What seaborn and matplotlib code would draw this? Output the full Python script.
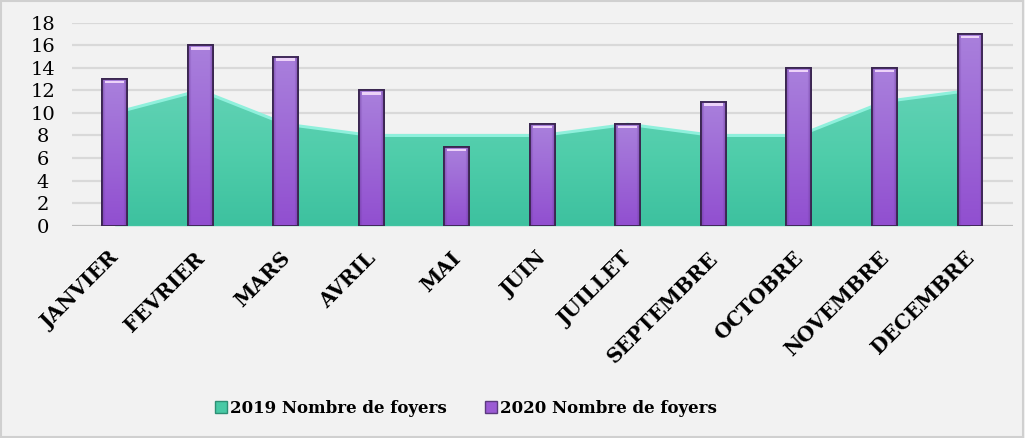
import matplotlib
matplotlib.use("Agg")
import matplotlib.pyplot as plt
import matplotlib.transforms as mtransforms
import seaborn as sns
import numpy as np
import pandas as pd
from matplotlib.patches import Rectangle, Patch
from matplotlib.colors import LinearSegmentedColormap, to_rgb

months = ["JANVIER", "FEVRIER", "MARS", "AVRIL", "MAI", "JUIN", "JUILLET",
          "SEPTEMBRE", "OCTOBRE", "NOVEMBRE", "DECEMBRE"]
foyers_2019 = [10, 12, 9, 8, 8, 8, 9, 8, 8, 11, 12]
foyers_2020 = [13, 16, 15, 12, 7, 9, 9, 11, 14, 14, 17]
y_ticks = [0, 2, 4, 6, 8, 10, 12, 14, 16, 18]
label_2019 = "2019 Nombre de foyers"
label_2020 = "2020 Nombre de foyers"

sns.set_style("white")
plt.rcParams['font.family'] = ['DejaVu Serif']

bg = "#f2f2f2"
fig = plt.figure(figsize=(10.25, 4.38), dpi=100, facecolor=bg)
ax = fig.add_axes([0.0702, 0.4847, 0.9178, 0.4635])
ax.set_facecolor(bg)

df = pd.DataFrame({"mois": months, "v2019": foyers_2019, "v2020": foyers_2020})
xpos = np.arange(len(months))

# gridlines
for t in y_ticks:
    ax.axhline(t, color="#d9d9d9" if t else "#bdbdbd", lw=1.6, zorder=0)

# area 2019 with vertical gradient
poly = ax.fill_between(xpos, 0, df["v2019"], color="#48c9a5", zorder=1, lw=0)
cmap = LinearSegmentedColormap.from_list("teal", ["#3dc19f", "#4fcdaa", "#62d2b5"])
grad = np.linspace(0, 1, 256).reshape(-1, 1)
im = ax.imshow(grad, extent=[-0.5, len(months) - 0.5, 0, 12.5], origin="lower",
               aspect="auto", cmap=cmap, zorder=1.5)
im.set_clip_path(poly.get_paths()[0], transform=ax.transData)
sns.lineplot(x=xpos, y=df["v2019"], ax=ax, color="#8ff0dc", lw=2.2, zorder=2)

# bars 2020
sns.barplot(data=df, x="mois", y="v2020", ax=ax, color="#9856d2",
            width=0.29, saturation=1, edgecolor="#3a2650", linewidth=1.3,
            zorder=3)
top_c = np.array(to_rgb("#a980dc"))
bot_c = np.array(to_rgb("#914fd0"))
edge_dark = np.array(to_rgb("#6a3a9a"))
for p in list(ax.patches):
    x0, w, h = p.get_x(), p.get_width(), p.get_height()
    ny, nx = 64, 32
    v = np.linspace(0, 1, ny)[:, None, None]
    base = bot_c * (1 - v) + top_c * v
    u = np.linspace(-1, 1, nx)[None, :, None]
    shade = np.clip((np.abs(u) - 0.75) / 0.25, 0, 1)
    img = base * (1 - 0.6 * shade) + edge_dark * 0.6 * shade
    img = np.broadcast_to(img, (ny, nx, 3))
    ax.imshow(img, extent=[x0, x0 + w, 0, h], origin="lower", aspect="auto",
              zorder=3.2, interpolation="bilinear")
    ax.add_patch(Rectangle((x0, 0), w, h, fill=False, edgecolor="#3a2650",
                           lw=1.3, zorder=3.6))
    ax.add_patch(Rectangle((x0 + w*0.12, h - 0.38), w*0.76, 0.22,
                           color="#ecd2f8", lw=0, zorder=4))

ax.set_xlim(-0.5, len(months) - 0.5)
ax.set_ylim(0, 18)
ax.set_yticks(y_ticks)
ax.set_yticklabels([str(t) for t in y_ticks], fontsize=14, color="black")
ax.set_xticks(xpos)
ax.set_xticklabels(months, rotation=45, ha="right", rotation_mode="anchor",
                   fontsize=14.5, fontweight="bold", color="black")
ax.tick_params(axis="x", length=0, pad=16)
ax.tick_params(axis="y", length=0, pad=21)
offset = mtransforms.ScaledTranslation(-6 / 100, 0, fig.dpi_scale_trans)
for lab in ax.get_xticklabels():
    lab.set_transform(lab.get_transform() + offset)
for lab in ax.get_yticklabels():
    lab.set_horizontalalignment("center")
ax.set_xlabel("")
ax.set_ylabel("")
for s in ax.spines.values():
    s.set_visible(False)

handles = [Patch(facecolor="#48c9a5", edgecolor="#2e8f74", label=label_2019),
           Patch(facecolor="#9b5bd4", edgecolor="#5b3a7e", label=label_2020)]
fig.legend(handles=handles, loc="center", bbox_to_anchor=(0.455, 0.068),
           ncol=2, frameon=False,
           prop={"weight": "bold", "size": 12},
           labelcolor="black",
           handlelength=0.7, handleheight=0.7, handletextpad=0.2,
           columnspacing=2.3)

fig.add_artist(Rectangle((0.001, 0.002), 0.997, 0.995, transform=fig.transFigure,
                         fill=False, edgecolor="#d0d0d0", lw=1.5))

fig.savefig("out.png", dpi=100, facecolor=bg)
